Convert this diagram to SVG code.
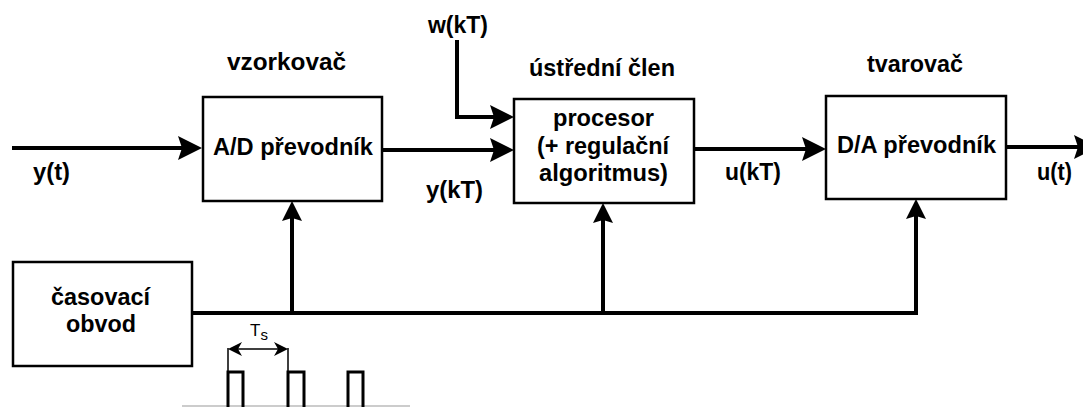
<svg xmlns="http://www.w3.org/2000/svg" width="1083" height="407" viewBox="0 0 1083 407">
<style>
text{font-family:"Liberation Sans",Arial,sans-serif;font-weight:bold;font-size:23px;fill:#000;}
.box{fill:#fff;stroke:#000;stroke-width:2.5;}
.w{fill:none;stroke:#000;stroke-width:4;stroke-linejoin:miter;}
.thin{fill:none;stroke:#000;stroke-width:1.5;}
.pulse{fill:none;stroke:#000;stroke-width:3;}
text.ts{font-weight:normal;font-size:17px;}
tspan.sub{font-size:15px;}
</style>
<defs>
<marker id="ah" markerUnits="userSpaceOnUse" markerWidth="26" markerHeight="26" viewBox="-7 -13 26 26" refX="0" refY="0" orient="auto"><path d="M-6,-12 L18,0 L-6,12 L-2,0 Z" fill="#000"/></marker>
<marker id="av" markerUnits="userSpaceOnUse" markerWidth="24" markerHeight="24" viewBox="-6 -12 24 24" refX="0" refY="0" orient="auto"><path d="M-4,-10 L16,0 L-4,10 L-1,0 Z" fill="#000"/></marker>
</defs>

<g id="connectors">
<path class="w" d="M12,148 H184" marker-end="url(#ah)"/>
<path class="w" d="M382,150 H496" marker-end="url(#ah)"/>
<path class="w" d="M457,40 V117 H496" marker-end="url(#ah)"/>
<path class="w" d="M694,149 H808" marker-end="url(#ah)"/>
<path class="w" d="M1006,147 H1080" marker-end="url(#ah)"/>
<path class="w" d="M192,313 H916 V215" marker-end="url(#av)"/>
<path class="w" d="M292,313 V217" marker-end="url(#av)"/>
<path class="w" d="M603,313 V219" marker-end="url(#av)"/>
</g>

<g id="labels">
<text x="33" y="180" textLength="37" lengthAdjust="spacingAndGlyphs">y(t)</text>
<text x="428" y="33" textLength="60" lengthAdjust="spacingAndGlyphs">w(kT)</text>
<text x="426" y="198" textLength="57" lengthAdjust="spacingAndGlyphs">y(kT)</text>
<text x="725" y="180" textLength="56" lengthAdjust="spacingAndGlyphs">u(kT)</text>
<text x="1037" y="180" textLength="35" lengthAdjust="spacingAndGlyphs">u(t)</text>
<text x="227" y="70" textLength="119" lengthAdjust="spacingAndGlyphs">vzorkovač</text>
<text x="529" y="76" textLength="146" lengthAdjust="spacingAndGlyphs">ústřední člen</text>
<text x="867" y="72" textLength="96" lengthAdjust="spacingAndGlyphs">tvarovač</text>
</g>

<g id="ad">
<rect class="box" x="203" y="97" width="179" height="104"/>
<text x="213" y="155" textLength="160" lengthAdjust="spacingAndGlyphs">A/D převodník</text>
</g>

<g id="procesor">
<rect class="box" x="514" y="99" width="180" height="104"/>
<text x="553" y="126" textLength="101" lengthAdjust="spacingAndGlyphs">procesor</text>
<text x="537" y="154" textLength="132" lengthAdjust="spacingAndGlyphs">(+ regulační</text>
<text x="539" y="181" textLength="129" lengthAdjust="spacingAndGlyphs">algoritmus)</text>
</g>

<g id="da">
<rect class="box" x="826" y="96" width="180" height="103"/>
<text x="837" y="153" textLength="159" lengthAdjust="spacingAndGlyphs">D/A převodník</text>
</g>

<g id="casovac">
<rect class="box" x="13" y="262" width="179" height="104"/>
<text x="51" y="305" textLength="99" lengthAdjust="spacingAndGlyphs">časovací</text>
<text x="66" y="332" textLength="70" lengthAdjust="spacingAndGlyphs">obvod</text>
</g>

<g id="pulses">
<line x1="182" y1="406" x2="410" y2="406" stroke="#999" stroke-width="1"/>
<path class="pulse" d="M228,408 V372 H243 V408 M288,408 V372 H304 V408 M348,408 V372 H363 V408"/>
<path class="thin" d="M228,372 V348 M288,372 V348 M234,349 H282"/>
<path d="M228,349 L242,342 L238,349 L242,356 Z M288,349 L274,342 L278,349 L274,356 Z" fill="#000"/>
<text class="ts" x="250" y="336">T<tspan class="sub" dy="4">s</tspan></text>
</g>
</svg>
